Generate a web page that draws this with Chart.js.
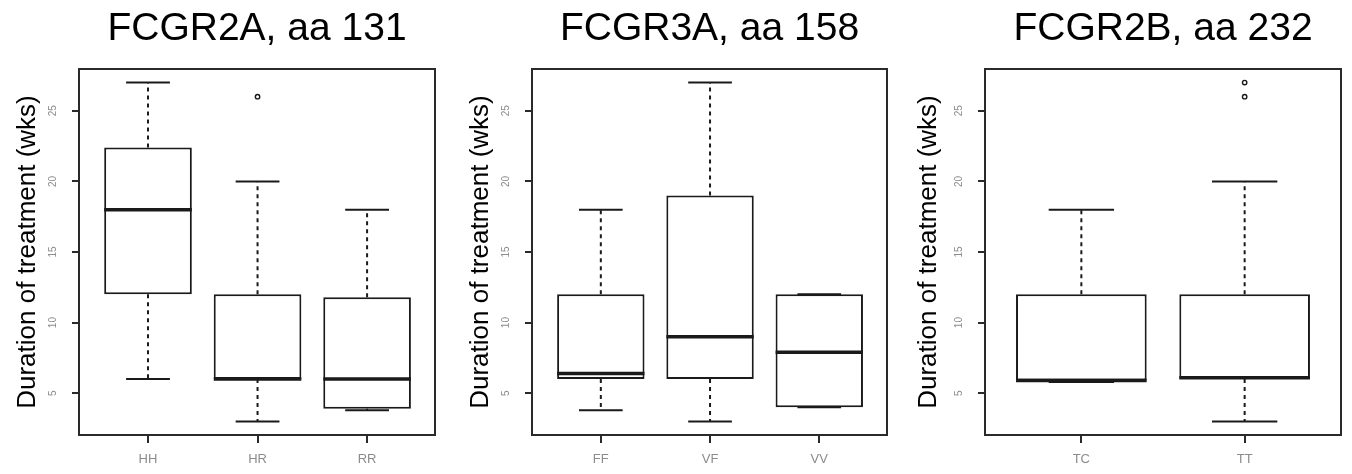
<!DOCTYPE html>
<html>
<head>
<meta charset="utf-8">
<script src="https://cdn.jsdelivr.net/npm/chart.js@4.4.1/dist/chart.umd.min.js"></script>
<style>
  body { margin: 0; background: #fff; }
  canvas { position: absolute; top: 0; }
</style>
</head>
<body>
<canvas id="c1" width="450" height="474" style="left:0"></canvas>
<canvas id="c2" width="450" height="474" style="left:450px"></canvas>
<canvas id="c3" width="452" height="474" style="left:900px"></canvas>
<script>
// data
const Y_TICKS = [5, 10, 15, 20, 25];

const GENO_2A = ['HH', 'HR', 'RR'];
const MIN_2A = [6, 3, 3.8];
const Q1_2A = [12, 6, 3.9];
const MED_2A = [18, 6, 6];
const Q3_2A = [22.4, 12, 11.8];
const MAX_2A = [27, 20, 18];
const OUT_2A = [[], [26], []];

const GENO_3A = ['FF', 'VF', 'VV'];
const MIN_3A = [3.8, 3, 4];
const Q1_3A = [6, 6, 4];
const MED_3A = [6.4, 9, 7.9];
const Q3_3A = [12, 19, 12];
const MAX_3A = [18, 27, 12];
const OUT_3A = [[], [], []];

const GENO_2B = ['TC', 'TT'];
const MIN_2B = [5.8, 3];
const Q1_2B = [5.9, 6];
const MED_2B = [5.9, 6.1];
const Q3_2B = [12, 12];
const MAX_2B = [18, 20];
const OUT_2B = [[], [26, 27]];

const FONT = "'Liberation Sans', Arial, sans-serif";
const INK = '#1a1a1a';

// draws whiskers, staples, medians, frame, tick marks and rotated y labels
const boxPlotPlugin = {
  id: 'boxplot',
  afterDatasetsDraw(chart) {
    const st = chart.options.plugins.boxplot;
    const y = chart.scales.y;
    const meta = chart.getDatasetMeta(0);
    const ctx = chart.ctx;
    ctx.save();
    ctx.strokeStyle = INK;
    meta.data.forEach((bar, i) => {
      const x = bar.x, w = bar.width;
      const pMin = y.getPixelForValue(st.lo[i]);
      const pQ1 = y.getPixelForValue(st.q1[i]);
      const pQ3 = y.getPixelForValue(st.q3[i]);
      const pMax = y.getPixelForValue(st.hi[i]);
      // whiskers
      ctx.lineWidth = 2;
      ctx.setLineDash([4, 4]);
      ctx.beginPath();
      if (st.hi[i] > st.q3[i]) { ctx.moveTo(x, pQ3); ctx.lineTo(x, pMax); }
      if (st.lo[i] < st.q1[i]) { ctx.moveTo(x, pQ1); ctx.lineTo(x, pMin); }
      ctx.stroke();
      // staples
      ctx.setLineDash([]);
      ctx.beginPath();
      ctx.moveTo(x - w / 4, pMax); ctx.lineTo(x + w / 4, pMax);
      ctx.moveTo(x - w / 4, pMin); ctx.lineTo(x + w / 4, pMin);
      ctx.stroke();
      // median
      const pMed = y.getPixelForValue(st.med[i]);
      ctx.lineWidth = 3.5;
      ctx.beginPath();
      ctx.moveTo(x - w / 2, pMed); ctx.lineTo(x + w / 2, pMed);
      ctx.stroke();
    });
    ctx.restore();
  },
  afterDraw(chart) {
    const a = chart.chartArea;
    const xs = chart.scales.x;
    const ys = chart.scales.y;
    const ctx = chart.ctx;
    ctx.save();
    ctx.strokeStyle = '#2a2a2a';
    ctx.lineWidth = 2;
    ctx.strokeRect(a.left, a.top, a.right - a.left, a.bottom - a.top);
    // tick marks
    ctx.fillStyle = '#2a2a2a';
    ys.ticks.forEach(t => {
      const py = Math.round(ys.getPixelForValue(t.value));
      ctx.fillRect(a.left - 7, py - 1, 7, 2);
    });
    xs.ticks.forEach(t => {
      const px = Math.round(xs.getPixelForValue(t.value));
      ctx.fillRect(px - 1, a.bottom, 2, 8);
    });
    // rotated y tick labels
    ctx.fillStyle = '#8c8c8c';
    ctx.font = '10px ' + FONT;
    ctx.textAlign = 'center';
    ctx.textBaseline = 'middle';
    ys.ticks.forEach(t => {
      ctx.save();
      ctx.translate(a.left - 26, ys.getPixelForValue(t.value));
      ctx.rotate(-Math.PI / 2);
      ctx.fillText(String(t.value), 0, 0);
      ctx.restore();
    });
    ctx.restore();
  }
};

function makeChart(id, p) {
  const W = document.getElementById(id).width;
  return new Chart(document.getElementById(id), {
    type: 'bar',
    data: {
      datasets: [{
        data: p.cats.map((c, i) => ({x: i + 1, y: [p.q1[i], p.q3[i]]})),
        backgroundColor: '#fff',
        borderColor: INK,
        borderWidth: 2,
        borderSkipped: false,
        barPercentage: 0.8,
        categoryPercentage: 1
      }, {
        type: 'scatter',
        data: p.out.flatMap((vals, i) => vals.map(v => ({x: i + 1, y: v}))),
        pointRadius: 2.2,
        pointBorderWidth: 1.4,
        pointBorderColor: INK,
        pointBackgroundColor: '#fff'
      }]
    },
    options: {
      responsive: false,
      animation: false,
      layout: {padding: {left: 0, right: W - p.frame.right, top: 0, bottom: 0}},
      plugins: {
        legend: {display: false},
        tooltip: {enabled: false},
        title: {
          display: true,
          text: p.title,
          fullSize: false,
          color: '#000',
          font: {family: FONT, size: 39, weight: 'normal', lineHeight: 1},
          padding: {top: 10, bottom: p.frame.top - 49}
        },
        boxplot: {lo: p.lo, q1: p.q1, med: p.med, q3: p.q3, hi: p.hi}
      },
      scales: {
        x: {
          type: 'linear',
          min: p.xRange[0],
          max: p.xRange[1],
          offset: false,
          afterBuildTicks: s => { s.ticks = p.cats.map((c, i) => ({value: i + 1})); },
          afterFit: s => { s.height = 474 - p.frame.bottom; },
          ticks: {
            autoSkip: false,
            maxRotation: 0,
            padding: 17,
            color: '#8c8c8c',
            font: {family: FONT, size: 13},
            callback: v => p.cats[v - 1] ?? ''
          },
          grid: {offset: false, drawOnChartArea: false, drawTicks: false},
          border: {display: false}
        },
        y: {
          type: 'linear',
          min: 2.04,
          max: 27.96,
          afterBuildTicks: s => { s.ticks = Y_TICKS.map(v => ({value: v})); },
          afterFit: s => { s.width = p.frame.left; },
          ticks: {display: false},
          grid: {drawOnChartArea: false, drawTicks: false},
          border: {display: false},
          title: {
            display: true,
            text: 'Duration of treatment (wks)',
            color: '#000',
            font: {family: FONT, size: 26, lineHeight: 1.2},
            padding: {top: p.yTitleX - 15.6, bottom: 0}
          }
        }
      }
    },
    plugins: [boxPlotPlugin]
  });
}

makeChart('c1', {
  title: 'FCGR2A, aa 131', cats: GENO_2A,
  lo: MIN_2A, q1: Q1_2A, med: MED_2A, q3: Q3_2A, hi: MAX_2A, out: OUT_2A,
  xRange: [0.37, 3.62], frame: {left: 79, right: 435, top: 69, bottom: 435}, yTitleX: 28
});
makeChart('c2', {
  title: 'FCGR3A, aa 158', cats: GENO_3A,
  lo: MIN_3A, q1: Q1_3A, med: MED_3A, q3: Q3_3A, hi: MAX_3A, out: OUT_3A,
  xRange: [0.37, 3.62], frame: {left: 82, right: 437, top: 69, bottom: 435}, yTitleX: 31
});
makeChart('c3', {
  title: 'FCGR2B, aa 232', cats: GENO_2B,
  lo: MIN_2B, q1: Q1_2B, med: MED_2B, q3: Q3_2B, hi: MAX_2B, out: OUT_2B,
  xRange: [0.41, 2.59], frame: {left: 85, right: 441, top: 69, bottom: 435}, yTitleX: 29
});
</script>
</body>
</html>
